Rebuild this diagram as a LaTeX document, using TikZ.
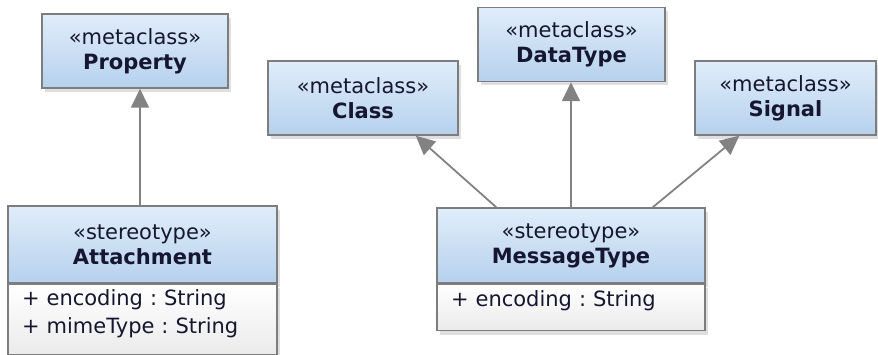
\documentclass[tikz,border=0pt]{standalone}
\usepackage{fontspec}
\setmainfont{DejaVu Sans}
\usepackage{xcolor}
\usetikzlibrary{arrows.meta,shadows,calc}
\definecolor{boxline}{RGB}{125,125,125}
\definecolor{boxtop}{RGB}{224,237,250}
\definecolor{boxbottom}{RGB}{182,209,237}
\definecolor{umltext}{RGB}{22,22,48}
\definecolor{arrowgray}{RGB}{130,130,130}
\tikzstyle{umlbox}=[rectangle, draw=boxline, line width=1.5pt, top color=boxtop, bottom color=boxbottom, text=umltext, align=center, inner sep=0pt, font=\fontsize{21}{25}\selectfont, drop shadow={shadow xshift=3pt, shadow yshift=-4pt, opacity=0.25}]
\tikzstyle{attrbox}=[rectangle, draw=boxline, line width=1.5pt, top color=white, bottom color=black!8, text=umltext, align=left, inner sep=0pt, inner xsep=14pt, font=\fontsize{21}{28}\selectfont\frenchspacing, drop shadow={shadow xshift=3pt, shadow yshift=-4pt, opacity=0.25}]
\tikzstyle{extends}=[draw=arrowgray, line width=1.8pt, -{Triangle[width=18pt,length=19pt]}]
\newcommand{\metabox}[4]{
	\node[umlbox, minimum width=#3, minimum height=74pt] (#1) at #2 {«metaclass»\\\textbf{#4}};
}

\begin{document}
\begin{tikzpicture}[x=1pt, y=-1pt]
	\useasboundingbox (0,0) rectangle (878,355);
	\metabox{prop}{(135,51)}{186pt}{Property}
	\metabox{cls}{(363,98)}{190pt}{Class}
	\metabox{dtype}{(571.5,44.5)}{187pt}{DataType}
	\metabox{sig}{(785.5,98)}{181pt}{Signal}
	% stereotypes with attribute compartment
	\node[umlbox, minimum width=269pt, minimum height=77pt] (attach) at (142.5,244.5) {«stereotype»\\\textbf{Attachment}};
	\node[attrbox, minimum width=269pt, text width=241pt, minimum height=70pt, text depth=44pt, anchor=north west] (attachattr) at (attach.south west) {+ encoding : String\\+ mimeType : String};
	\node[umlbox, minimum width=268pt, minimum height=75pt] (msg) at (571,245.5) {«stereotype»\\\textbf{MessageType}};
	\node[attrbox, minimum width=268pt, text width=240pt, minimum height=46pt, text depth=18pt, anchor=north west] (msgattr) at (msg.south west) {+ encoding : String};
	% extension arrows
	\draw[extends] ($(attach.north)+(-2.5,0)$) -- ($(attach.north |- prop.south)+(-2.5,0)$);
	\draw[extends] ($(msg.north west)+(60,0)$) -- ($(cls.south east)+(-43,0)$);
	\draw[extends] (msg.north) -- (msg.north |- dtype.south);
	\draw[extends] ($(msg.north east)+(-53,0)$) -- ($(sig.south west)+(45,0)$);
\end{tikzpicture}
\end{document}
